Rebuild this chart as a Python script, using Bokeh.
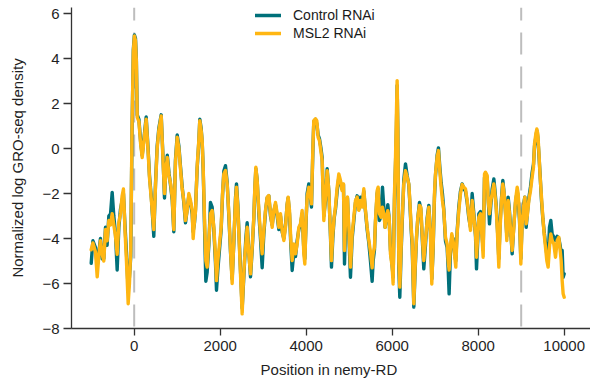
from bokeh.plotting import figure
from bokeh.models import Range1d, FixedTicker, Span, Legend, LegendItem
from bokeh.embed import file_html
from bokeh.resources import INLINE

# Position along nemy-RD (bp)
pos = [-1000, -960, -900, -860, -820, -784, -745, -707, -667, -630, -590, -550, -512, -474, -435, -396, -357, -319, -280, -250,
       -215, -180, -140, -110, -80, -50, -20, 5, 30, 50, 70, 110, 150, 186, 230, 279, 320, 356, 400, 456,
       495, 534, 573, 628, 670, 705, 740, 770, 810, 850, 885, 921, 960, 1000, 1040, 1077, 1116, 1154, 1193, 1232,
       1271, 1309, 1348, 1371, 1402, 1426, 1464, 1503, 1526, 1557, 1581, 1604, 1635, 1666, 1697, 1736, 1774, 1813, 1852, 1891,
       1914, 1945, 1992, 2023, 2054, 2085, 2123, 2162, 2201, 2240, 2278, 2317, 2356, 2379, 2410, 2441, 2472, 2511, 2534, 2565,
       2596, 2627, 2666, 2705, 2744, 2782, 2806, 2829, 2860, 2899, 2937, 2976, 3015, 3054, 3092, 3131, 3170, 3209, 3247, 3286,
       3325, 3364, 3402, 3441, 3480, 3519, 3557, 3581, 3612, 3643, 3674, 3712, 3751, 3790, 3829, 3867, 3906, 3945, 3968, 3999,
       4022, 4061, 4100, 4123, 4154, 4177, 4216, 4247, 4278, 4309, 4340, 4371, 4410, 4449, 4488, 4526, 4565, 4588, 4619, 4650,
       4681, 4720, 4759, 4798, 4836, 4867, 4891, 4929, 4960, 4991, 5030, 5069, 5108, 5147, 5185, 5224, 5263, 5302, 5340, 5379,
       5418, 5457, 5495, 5534, 5557, 5588, 5611, 5650, 5673, 5704, 5743, 5774, 5805, 5836, 5867, 5898, 5929, 5960, 5999, 6022,
       6053, 6076, 6100, 6115, 6131, 6154, 6177, 6208, 6231, 6270, 6309, 6348, 6386, 6410, 6441, 6464, 6487, 6503, 6534, 6565,
       6596, 6635, 6666, 6697, 6735, 6774, 6813, 6852, 6890, 6921, 6952, 6983, 7007, 7045, 7076, 7107, 7138, 7169, 7200, 7239,
       7278, 7301, 7324, 7355, 7386, 7417, 7448, 7479, 7510, 7549, 7588, 7627, 7666, 7705, 7744, 7783, 7821, 7860, 7899, 7938,
       7961, 7992, 8015, 8054, 8093, 8116, 8147, 8170, 8209, 8232, 8263, 8294, 8325, 8364, 8387, 8418, 8449, 8480, 8511, 8542,
       8573, 8604, 8635, 8666, 8697, 8728, 8759, 8790, 8829, 8868, 8907, 8930, 8961, 8992, 9023, 9054, 9085, 9116, 9147, 9178,
       9217, 9255, 9286, 9310, 9341, 9364, 9387, 9410, 9441, 9472, 9503, 9534, 9565, 9596, 9627, 9658, 9689, 9720, 9759, 9798,
       9837, 9875, 9906, 9930, 9953, 9976, 10000]

# Control RNAi
control = [-5.1, -4.1, -4.4, -5.2, -4.6, -4.0, -4.9, -4.9, -3.5, -4.3, -3.0, -2.9, -1.95, -3.0, -3.8, -5.4, -3.5, -2.7, -2.3, -2.0,
           -3.4, -4.6, -6.3, -5.7, -4.8, 0.8, 4.4, 5.05, 4.9, 4.0, 1.5, 1.3, 0.3, -0.3, 0.5, 1.4, 0.1, -1.2, -2.2, -3.9,
           -1.6, 0.1, 0.9, 1.5, -0.4, -2.2, -0.8, -0.3, -1.1, -1.7, -2.3, -3.7, -0.5, 0.6, 0.1, -0.8, -1.7, -2.4, -3.3, -2.7,
           -2.1, -2.4, -2.9, -3.7, -3.3, -2.7, -0.9, 0.3, 1.3, 0.9, 0.3, -0.9, -3.4, -5.9, -5.5, -4.3, -2.4, -2.6, -3.6, -5.1,
           -6.3, -5.4, -4.3, -3.6, -2.1, -1.0, -0.76, -1.5, -3.0, -4.6, -5.8, -4.2, -2.2, -1.57, -2.5, -4.0, -5.4, -7.1, -6.3, -5.1,
           -4.0, -3.3, -4.6, -5.7, -4.5, -3.1, -1.8, -0.9, -1.4, -2.9, -4.0, -5.3, -3.8, -2.8, -2.2, -2.1, -3.0, -3.4, -2.8, -2.5,
           -3.0, -3.6, -3.0, -3.7, -4.0, -3.4, -2.5, -2.2, -2.9, -4.3, -5.42, -4.6, -4.8, -4.1, -3.6, -3.4, -2.9, -4.5, -4.9, -3.2,
           -2.0, -1.57, -2.2, -2.6, -0.2, 1.2, 1.3, 1.1, 0.6, 0.43, 0.06, -0.4, -3.0, -2.3, -0.9, -1.9, -3.9, -5.27, -4.0, -3.1,
           -2.7, -1.9, -1.3, -1.5, -1.8, -1.6, -5.13, -2.5, -2.2, -3.8, -5.72, -4.0, -3.2, -2.4, -2.1, -2.7, -2.16, -2.5, -1.9, -2.8,
           -3.6, -4.2, -5.0, -5.9, -5.0, -4.5, -3.3, -2.0, -1.8, -3.2, -3.0, -1.72, -2.6, -3.5, -3.1, -2.5, -3.1, -4.5, -5.2, -5.72,
           -2.3, -0.8, 1.0, 2.8, 0.8, -5.3, -6.61, -4.6, -3.4, -1.4, -0.68, -1.2, -1.6, -2.4, -3.6, -4.3, -5.9, -7.05, -5.4, -4.0,
           -3.1, -2.4, -2.7, -3.9, -5.35, -4.3, -3.1, -2.53, -3.7, -5.8, -4.5, -2.2, -1.2, -0.3, 0.03, -0.8, -1.5, -2.01, -2.7, -4.1,
           -4.4, -5.3, -6.46, -4.6, -3.9, -4.0, -4.6, -5.0, -3.7, -2.6, -1.9, -1.57, -1.8, -1.9, -2.4, -3.1, -3.5, -2.0, -2.9, -3.9,
           -5.35, -4.0, -2.9, -2.8, -3.9, -4.5, -1.3, -1.1, -1.3, -2.2, -3.35, -2.5, -1.8, -1.35, -1.8, -2.5, -3.6, -4.9, -3.3, -2.2,
           -1.42, -2.0, -2.8, -3.9, -2.16, -2.8, -3.7, -4.68, -3.4, -2.4, -1.9, -2.2, -3.2, -4.9, -3.2, -2.5, -2.16, -3.5, -2.8, -2.2,
           -1.7, -1.05, -0.7, 0.1, 0.5, 0.8, 0.5, -0.2, -1.2, -2.31, -3.1, -3.7, -4.2, -4.7, -4.9, -3.5, -3.2, -3.8, -3.94, -4.09,
           -3.9, -4.0, -4.3, -4.68, -4.53, -5.72, -5.57]

# MSL2 RNAi
msl2 = [-4.5, -4.2, -4.6, -5.7, -4.7, -4.1, -4.7, -5.0, -3.6, -4.1, -3.2, -3.4, -2.9, -3.4, -3.9, -4.7, -3.3, -2.9, -2.1, -1.8,
        -3.6, -5.0, -6.9, -6.0, -4.5, 1.0, 4.3, 5.0, 4.8, 3.9, 1.4, 1.2, 0.2, -0.4, 0.4, 1.3, 0.0, -1.3, -2.3, -3.6,
        -1.7, 0.0, 0.8, 1.45, -0.5, -2.0, -0.9, -0.4, -1.2, -1.6, -2.2, -3.6, -0.6, 0.5, 0.0, -0.9, -1.8, -2.3, -3.2, -2.75,
        -2.0, -2.3, -2.75, -4.0, -3.2, -2.8, -0.8, 0.35, 1.24, 0.8, 0.35, -0.83, -3.05, -4.98, -5.27, -4.09, -2.9, -2.75, -3.5, -4.83,
        -5.87, -4.98, -4.09, -3.5, -2.0, -1.13, -0.98, -1.57, -2.9, -4.53, -6.0, -4.09, -2.31, -1.72, -2.61, -4.09, -5.57, -7.35, -6.16, -4.98,
        -4.24, -3.5, -4.68, -5.57, -4.38, -3.05, -1.72, -0.83, -1.42, -2.75, -3.79, -4.68, -3.64, -2.75, -2.16, -2.09, -2.9, -3.5, -2.75, -2.4,
        -2.9, -3.5, -2.9, -3.64, -4.09, -3.5, -2.46, -2.16, -2.75, -4.1, -4.98, -4.24, -4.68, -4.24, -3.5, -3.35, -2.75, -4.68, -5.13, -3.05,
        -2.16, -1.72, -2.16, -2.46, -0.09, 1.24, 1.32, 1.24, 0.5, 0.35, -0.09, -0.53, -3.2, -2.16, -0.98, -1.87, -3.8, -4.98, -3.8, -3.05,
        -2.6, -1.72, -1.13, -1.42, -1.87, -1.57, -4.53, -2.31, -2.16, -3.5, -5.27, -3.8, -3.05, -2.31, -2.16, -2.75, -2.31, -2.6, -1.79, -2.75,
        -3.5, -4.09, -4.6, -5.3, -4.68, -4.4, -3.2, -1.87, -1.72, -2.9, -3.05, -2.61, -2.9, -3.5, -3.05, -2.76, -3.05, -4.68, -5.27, -6.02,
        -2.01, -0.53, 1.69, 3.02, 0.95, -4.98, -6.16, -4.4, -3.2, -1.57, -0.98, -1.27, -1.57, -2.31, -3.5, -4.09, -5.72, -6.9, -5.27, -3.94,
        -3.05, -2.53, -2.6, -3.79, -4.98, -4.09, -3.2, -2.61, -3.79, -6.02, -4.38, -2.01, -1.13, -0.38, -0.09, -0.98, -1.72, -2.31, -2.76, -3.94,
        -4.24, -4.98, -5.4, -4.38, -3.79, -4.09, -4.68, -5.27, -3.79, -2.76, -2.01, -1.6, -1.72, -1.8, -2.31, -3.0, -3.64, -2.31, -3.05, -3.8,
        -4.83, -3.8, -3.05, -2.9, -4.09, -4.83, -1.13, -1.05, -1.2, -2.31, -2.9, -2.31, -2.0, -1.57, -2.0, -2.6, -3.8, -5.27, -3.5, -2.31,
        -1.57, -2.0, -2.9, -4.09, -2.31, -2.9, -3.8, -4.53, -3.5, -2.31, -1.72, -2.0, -3.05, -5.13, -3.35, -2.61, -2.16, -3.35, -2.9, -2.31,
        -1.87, -1.27, -0.83, 0.21, 0.65, 0.87, 0.65, -0.09, -1.27, -2.16, -3.05, -3.8, -4.38, -4.98, -5.27, -4.38, -3.8, -4.09, -4.24, -4.83,
        -4.09, -3.94, -4.53, -4.98, -5.87, -6.46, -6.61]

x_ticks = [0, 2000, 4000, 6000, 8000, 10000]
y_ticks = [-8, -6, -4, -2, 0, 2, 4, 6]
tss_marks = [0, 9000]
series_names = ["Control RNAi", "MSL2 RNAi"]

TEAL = "#00707a"
GOLD = "#ffb612"
FONT = "Liberation Sans"

p = figure(width=590, height=387, output_backend="svg", toolbar_location=None,
           x_range=Range1d(-1458, 10612), y_range=Range1d(-8, 6.27),
           min_border_left=71, min_border_right=0, min_border_top=7, min_border_bottom=59)
p.outline_line_color = None
p.xgrid.grid_line_color = None
p.ygrid.grid_line_color = None
p.background_fill_color = "white"
p.border_fill_color = "white"

for loc in tss_marks:
    p.add_layout(Span(location=loc, dimension="height", line_color="#bdbdbd",
                      line_width=2, line_dash="22 12", line_dash_offset=9, level="underlay"))

r1 = p.line(pos, control, line_color=TEAL, line_width=3.4, line_join="round", line_cap="round")
r2 = p.line(pos, msl2, line_color=GOLD, line_width=3.4, line_join="round", line_cap="round")

for ax in (p.xaxis[0], p.yaxis[0]):
    ax.axis_line_color = "#333333"
    ax.axis_line_width = 1.3
    ax.major_tick_line_color = "#333333"
    ax.major_tick_line_width = 1.3
    ax.minor_tick_line_color = None
    ax.major_tick_in = 0
    ax.major_label_text_font = FONT
    ax.major_label_text_font_size = "15px"
    ax.major_label_text_color = "#1f1f1f"
    ax.axis_label_text_font = FONT
    ax.axis_label_text_font_size = "15px"
    ax.axis_label_text_font_style = "normal"
    ax.axis_label_text_color = "#1f1f1f"

p.xaxis.ticker = FixedTicker(ticks=x_ticks)
p.yaxis.ticker = FixedTicker(ticks=y_ticks)
p.xaxis.major_tick_out = 7
p.yaxis.major_tick_out = 8
p.xaxis.major_label_standoff = 5
p.yaxis.major_label_standoff = 4
p.yaxis.major_label_overrides = {t: ("\u2212" + str(-t)) if t < 0 else str(t) for t in y_ticks}
p.xaxis.axis_label = "Position in  nemy-RD"
p.yaxis.axis_label = "Normalized log GRO-seq density"
p.xaxis.axis_label_standoff = 7
p.yaxis.axis_label_standoff = 13

legend = Legend(items=[LegendItem(label=series_names[0], renderers=[r1]),
                       LegendItem(label=series_names[1], renderers=[r2])],
                location=(184, 286), border_line_color=None, background_fill_alpha=0,
                padding=0, margin=0, spacing=0, glyph_width=26, glyph_height=18,
                label_height=18, label_standoff=12, label_text_font=FONT,
                label_text_font_size="14px", label_text_color="#1a1a1a")
p.add_layout(legend)

open("out.html", "w").write(file_html(p, INLINE))
